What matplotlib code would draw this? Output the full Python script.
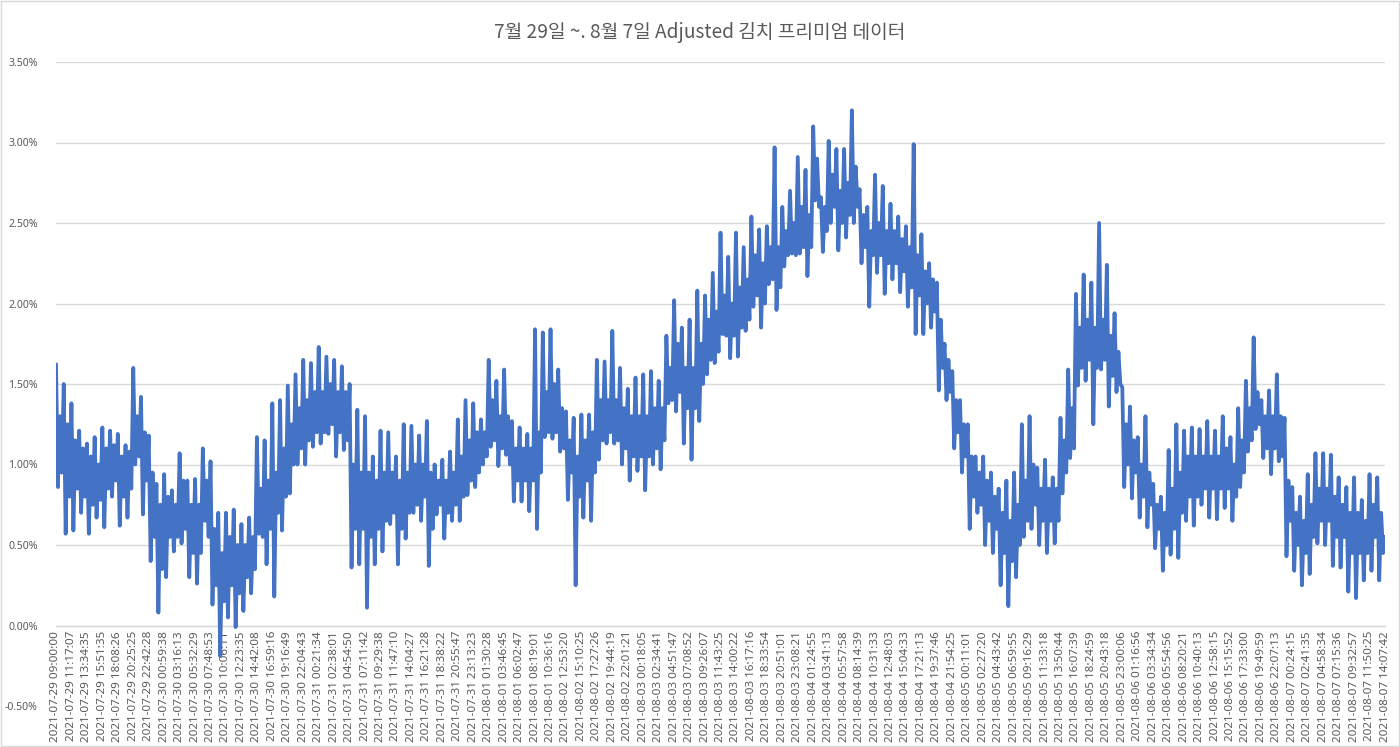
import matplotlib
matplotlib.use("Agg")
import matplotlib.pyplot as plt
from matplotlib.ticker import FixedLocator, FuncFormatter
from matplotlib.patches import Rectangle
import numpy as np

plt.rcParams['font.family'] = ['Noto Sans CJK KR', 'DejaVu Sans']

title = "7월 29일 ~. 8월 7일 Adjusted 김치 프리미엄 데이터"

tick_labels = [
    "2021-07-29 09:00:00", "2021-07-29 11:17:07", "2021-07-29 13:34:35", "2021-07-29 15:51:35",
    "2021-07-29 18:08:26", "2021-07-29 20:25:25", "2021-07-29 22:42:28", "2021-07-30 00:59:38",
    "2021-07-30 03:16:13", "2021-07-30 05:32:29", "2021-07-30 07:48:53", "2021-07-30 10:06:11",
    "2021-07-30 12:23:35", "2021-07-30 14:42:08", "2021-07-30 16:59:16", "2021-07-30 19:16:49",
    "2021-07-30 22:04:43", "2021-07-31 00:21:34", "2021-07-31 02:38:01", "2021-07-31 04:54:50",
    "2021-07-31 07:11:42", "2021-07-31 09:29:38", "2021-07-31 11:47:10", "2021-07-31 14:04:27",
    "2021-07-31 16:21:28", "2021-07-31 18:38:22", "2021-07-31 20:55:47", "2021-07-31 23:13:23",
    "2021-08-01 01:30:28", "2021-08-01 03:46:45", "2021-08-01 06:02:47", "2021-08-01 08:19:01",
    "2021-08-01 10:36:16", "2021-08-02 12:53:20", "2021-08-02 15:10:25", "2021-08-02 17:27:26",
    "2021-08-02 19:44:19", "2021-08-02 22:01:21", "2021-08-03 00:18:05", "2021-08-03 02:34:41",
    "2021-08-03 04:51:47", "2021-08-03 07:08:52", "2021-08-03 09:26:07", "2021-08-03 11:43:25",
    "2021-08-03 14:00:22", "2021-08-03 16:17:16", "2021-08-03 18:33:54", "2021-08-03 20:51:01",
    "2021-08-03 23:08:21", "2021-08-04 01:24:55", "2021-08-04 03:41:13", "2021-08-04 05:57:58",
    "2021-08-04 08:14:39", "2021-08-04 10:31:33", "2021-08-04 12:48:03", "2021-08-04 15:04:33",
    "2021-08-04 17:21:13", "2021-08-04 19:37:46", "2021-08-04 21:54:25", "2021-08-05 00:11:01",
    "2021-08-05 02:27:20", "2021-08-05 04:43:42", "2021-08-05 06:59:55", "2021-08-05 09:16:29",
    "2021-08-05 11:33:18", "2021-08-05 13:50:44", "2021-08-05 16:07:39", "2021-08-05 18:24:59",
    "2021-08-05 20:43:18", "2021-08-05 23:00:06", "2021-08-06 01:16:56", "2021-08-06 03:34:34",
    "2021-08-06 05:54:56", "2021-08-06 08:20:21", "2021-08-06 10:40:13", "2021-08-06 12:58:15",
    "2021-08-06 15:15:52", "2021-08-06 17:33:00", "2021-08-06 19:49:59", "2021-08-06 22:07:13",
    "2021-08-07 00:24:15", "2021-08-07 02:41:35", "2021-08-07 04:58:34", "2021-08-07 07:15:36",
    "2021-08-07 09:32:57", "2021-08-07 11:50:25", "2021-08-07 14:07:42",
]

# Adjusted kimchi premium (%): 8 readings per label interval
premium = [
    1.62, 0.86, 1.30, 0.95, 1.50, 0.57, 1.25, 0.80,
    1.38, 0.59, 1.15, 0.85, 1.21, 0.70, 1.10, 0.80,
    1.13, 0.57, 1.05, 0.75, 1.17, 0.67, 1.00, 0.78,
    1.23, 0.61, 1.10, 0.85, 1.21, 0.80, 1.12, 0.90,
    1.19, 0.62, 1.05, 0.80, 1.12, 0.67, 1.08, 0.85,
    1.60, 1.00, 1.30, 1.05, 1.42, 0.69, 1.20, 0.90,
    1.18, 0.40, 0.95, 0.55, 0.88, 0.08, 0.75, 0.35,
    0.94, 0.30, 0.80, 0.55, 0.84, 0.46, 0.75, 0.55,
    1.07, 0.51, 0.90, 0.60, 0.90, 0.30, 0.75, 0.45,
    0.91, 0.26, 0.75, 0.45, 1.10, 0.65, 0.90, 0.55,
    1.02, 0.13, 0.60, 0.25, 0.70, -0.19, 0.45, 0.15,
    0.70, 0.05, 0.55, 0.25, 0.72, -0.01, 0.50, 0.20,
    0.63, 0.09, 0.50, 0.30, 0.67, 0.20, 0.55, 0.35,
    1.17, 0.57, 0.85, 0.55, 1.15, 0.38, 0.90, 0.60,
    1.38, 0.18, 0.95, 0.70, 1.40, 0.59, 1.10, 0.80,
    1.49, 0.82, 1.25, 1.00, 1.56, 1.00, 1.35, 1.10,
    1.65, 1.00, 1.40, 1.15, 1.63, 1.11, 1.45, 1.20,
    1.73, 1.13, 1.45, 1.20, 1.67, 1.19, 1.50, 1.25,
    1.65, 1.05, 1.45, 1.20, 1.61, 1.09, 1.45, 1.15,
    1.50, 0.36, 1.00, 0.60, 1.34, 0.38, 0.95, 0.60,
    1.30, 0.11, 0.95, 0.55, 1.05, 0.38, 0.90, 0.60,
    1.21, 0.46, 0.95, 0.65, 1.20, 0.63, 0.95, 0.70,
    1.05, 0.38, 0.90, 0.60, 1.25, 0.54, 0.95, 0.70,
    1.24, 0.70, 1.00, 0.75, 1.18, 0.65, 1.00, 0.80,
    1.27, 0.37, 0.95, 0.60, 1.00, 0.69, 0.90, 0.75,
    1.03, 0.54, 0.90, 0.70, 1.08, 0.65, 0.95, 0.75,
    1.28, 0.65, 1.05, 0.80, 1.40, 0.81, 1.15, 0.90,
    1.38, 0.86, 1.20, 0.95, 1.28, 1.00, 1.20, 1.05,
    1.65, 1.11, 1.40, 1.15, 1.52, 0.99, 1.30, 1.10,
    1.59, 1.06, 1.30, 1.00, 1.27, 0.77, 1.10, 0.90,
    1.23, 0.77, 1.10, 0.90, 1.19, 0.71, 1.10, 0.90,
    1.84, 0.60, 1.20, 0.95, 1.82, 1.17, 1.45, 1.20,
    1.84, 1.16, 1.50, 1.20, 1.59, 1.08, 1.35, 1.10,
    1.33, 0.78, 1.15, 0.95, 1.29, 0.25, 1.05, 0.80,
    1.31, 0.67, 1.15, 0.90, 1.31, 0.65, 1.20, 0.95,
    1.65, 1.03, 1.40, 1.15, 1.64, 1.13, 1.40, 1.20,
    1.83, 1.13, 1.40, 1.15, 1.60, 1.00, 1.35, 1.10,
    1.47, 0.90, 1.30, 1.05, 1.54, 0.96, 1.30, 1.05,
    1.56, 0.84, 1.30, 1.05, 1.58, 1.00, 1.35, 1.10,
    1.52, 0.97, 1.35, 1.15, 1.80, 1.38, 1.60, 1.40,
    2.02, 1.33, 1.75, 1.45, 1.85, 1.13, 1.60, 1.35,
    1.90, 1.03, 1.60, 1.35, 2.08, 1.27, 1.75, 1.50,
    2.05, 1.56, 1.90, 1.65, 2.19, 1.63, 1.95, 1.70,
    2.44, 1.81, 2.05, 1.80, 2.29, 1.66, 2.00, 1.80,
    2.44, 1.67, 2.10, 1.85, 2.35, 1.83, 2.15, 1.90,
    2.54, 1.98, 2.30, 2.05, 2.46, 1.85, 2.25, 2.00,
    2.48, 2.12, 2.35, 2.15, 2.97, 1.96, 2.35, 2.10,
    2.60, 2.23, 2.45, 2.30, 2.70, 2.31, 2.50, 2.30,
    2.91, 2.31, 2.60, 2.35, 2.83, 2.17, 2.55, 2.35,
    3.10, 2.64, 2.90, 2.60, 2.66, 2.32, 2.60, 2.45,
    3.01, 2.50, 2.80, 2.60, 2.96, 2.33, 2.70, 2.50,
    2.96, 2.41, 2.75, 2.55, 3.20, 2.50, 2.85, 2.60,
    2.71, 2.25, 2.55, 2.35, 2.60, 1.98, 2.45, 2.30,
    2.80, 2.19, 2.50, 2.30, 2.73, 2.06, 2.45, 2.25,
    2.62, 2.15, 2.45, 2.25, 2.54, 2.07, 2.40, 2.20,
    2.48, 1.98, 2.35, 2.10, 2.99, 1.81, 2.30, 2.05,
    2.43, 1.81, 2.20, 2.00, 2.25, 1.85, 2.15, 1.95,
    2.13, 1.46, 1.90, 1.60, 1.75, 1.40, 1.65, 1.45,
    1.58, 1.10, 1.40, 1.20, 1.40, 0.95, 1.25, 1.05,
    1.25, 0.60, 1.05, 0.80, 1.05, 0.70, 0.95, 0.75,
    1.05, 0.50, 0.90, 0.65, 0.95, 0.45, 0.80, 0.60,
    0.85, 0.25, 0.70, 0.45, 0.90, 0.12, 0.65, 0.40,
    0.95, 0.30, 0.75, 0.50, 1.25, 0.55, 0.90, 0.65,
    1.30, 0.60, 1.00, 0.75, 0.98, 0.50, 0.85, 0.65,
    1.03, 0.45, 0.85, 0.65, 0.92, 0.51, 0.85, 0.65,
    1.29, 0.82, 1.15, 0.95, 1.59, 1.04, 1.35, 1.10,
    2.06, 1.49, 1.85, 1.60, 2.18, 1.52, 1.90, 1.65,
    2.13, 1.25, 1.85, 1.60, 2.50, 1.59, 1.90, 1.65,
    2.24, 1.36, 1.80, 1.55, 1.94, 1.45, 1.70, 1.50,
    1.48, 0.86, 1.25, 1.00, 1.36, 0.79, 1.15, 0.95,
    1.17, 0.67, 1.00, 0.80, 1.30, 0.61, 0.95, 0.75,
    0.88, 0.48, 0.75, 0.60, 0.80, 0.34, 0.70, 0.50,
    1.09, 0.44, 0.85, 0.60, 1.25, 0.42, 0.95, 0.70,
    1.21, 0.65, 1.05, 0.80, 1.23, 0.62, 1.05, 0.80,
    1.22, 0.75, 1.05, 0.85, 1.27, 0.67, 1.05, 0.85,
    1.21, 0.66, 1.05, 0.85, 1.30, 0.73, 1.10, 0.85,
    1.17, 0.65, 1.00, 0.80, 1.35, 0.86, 1.15, 0.95,
    1.52, 1.08, 1.35, 1.15, 1.79, 1.22, 1.45, 1.25,
    1.40, 1.04, 1.30, 1.10, 1.46, 0.94, 1.30, 1.10,
    1.56, 1.02, 1.30, 1.05, 1.29, 0.43, 0.90, 0.65,
    0.86, 0.34, 0.70, 0.50, 0.80, 0.25, 0.65, 0.45,
    0.94, 0.32, 0.75, 0.55, 1.07, 0.51, 0.85, 0.65,
    1.07, 0.50, 0.85, 0.65, 1.06, 0.37, 0.80, 0.55,
    0.92, 0.36, 0.75, 0.55, 0.86, 0.21, 0.70, 0.45,
    0.92, 0.17, 0.70, 0.45, 0.78, 0.28, 0.65, 0.45,
    0.94, 0.34, 0.75, 0.55, 0.92, 0.28, 0.70, 0.45,
    0.55,
]

points_per_label = 8
y_ticks = [-0.5, 0.0, 0.5, 1.0, 1.5, 2.0, 2.5, 3.0, 3.5]

fig = plt.figure(figsize=(14, 7.47), dpi=100)
ax = fig.add_axes([56 / 1400, 1 - 706 / 747, (1385 - 56) / 1400, (706 - 62) / 747])

for s in ["top", "right", "left"]:
    ax.spines[s].set_visible(False)
ax.spines["bottom"].set_position(("data", 0))
ax.spines["bottom"].set_color("#d9d9d9")
ax.spines["bottom"].set_linewidth(1.0)

x = np.arange(len(premium))
ax.plot(x, premium, color="#4472C4", lw=2.7, solid_joinstyle="round", zorder=3)

ax.set_xlim(0, len(premium) - 1)
ax.set_ylim(y_ticks[0], y_ticks[-1])

ax.yaxis.set_major_locator(FixedLocator(y_ticks))
ax.yaxis.set_major_formatter(FuncFormatter(lambda v, p: f"{v:.2f}%"))
ax.grid(axis="y", color="#d9d9d9", lw=1.0, zorder=0)
ax.set_axisbelow(True)

tick_pos = np.arange(0, len(premium), points_per_label)[:len(tick_labels)]
ax.set_xticks(tick_pos)
ax.set_xticklabels(tick_labels)
ax.tick_params(axis="x", length=0, pad=4, labelsize=8.4, labelcolor="#595959",
               labelrotation=90)
ax.tick_params(axis="y", length=0, pad=13, labelsize=7.6, labelcolor="#595959")
for lab in ax.get_xticklabels() + ax.get_yticklabels():
    lab.set_family(['Noto Sans', 'DejaVu Sans'])

fig.text(0.5, 1 - 32 / 747, title, ha="center", va="center", fontsize=13.8, color="#595959")

fig.patches.append(Rectangle((0.001, 0.001), 0.998, 0.997, transform=fig.transFigure,
                             fill=False, edgecolor="#d9d9d9", lw=1.0))

fig.savefig("out.png", dpi=100)
